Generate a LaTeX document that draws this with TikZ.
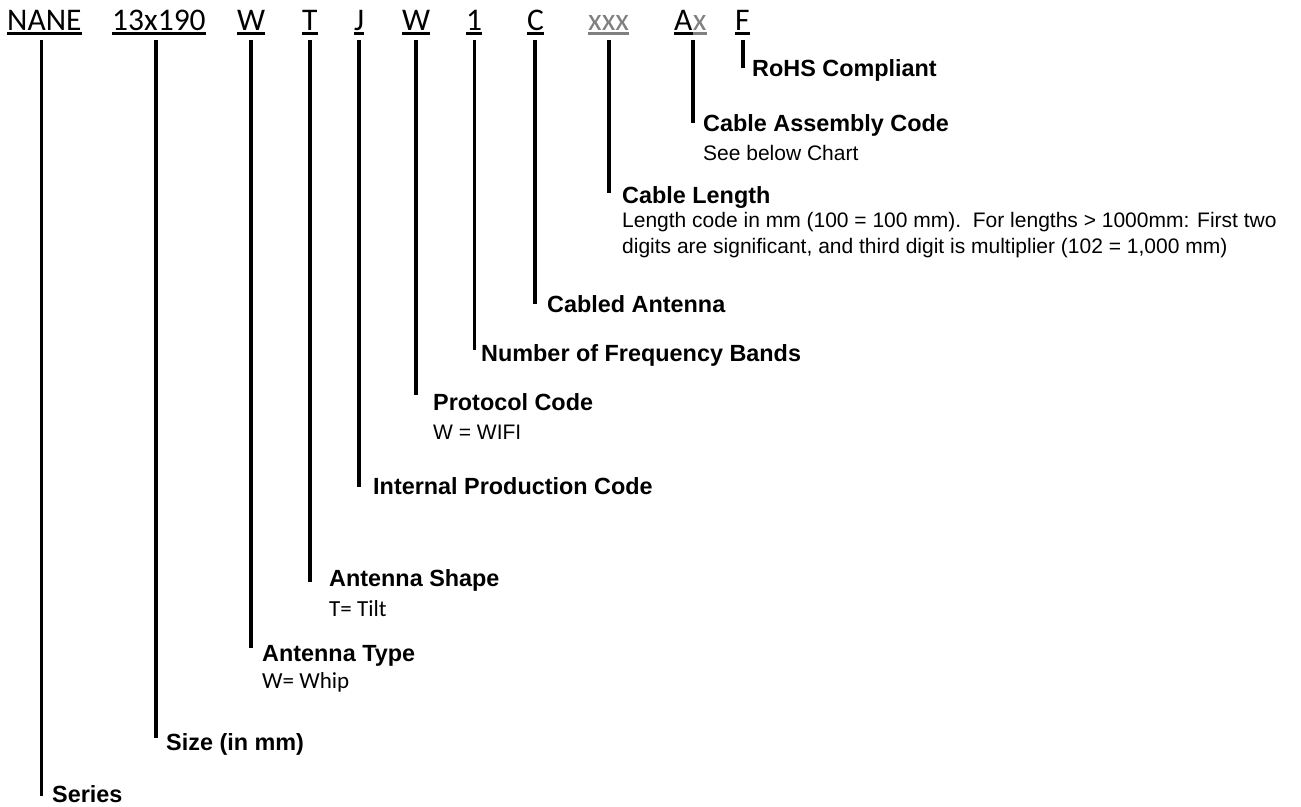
\documentclass[tikz,border=0pt]{standalone}
\usepackage{fontspec}
\setmainfont{Liberation Sans}
\newfontfamily\calib{Carlito}
\definecolor{codegray}{RGB}{128,128,128}
\begin{document}
\begin{tikzpicture}[x=1pt,y=-1pt,
  code/.style={anchor=base west, inner sep=0pt, font=\calib\fontsize{31.5}{32}\selectfont},
  uline/.style={line width=2.6pt},
  lead/.style={line width=3.5pt},
  lbl/.style={anchor=base west, inner sep=0pt, font=\bfseries\fontsize{23.4}{27}\selectfont},
  desc/.style={anchor=base west, inner sep=0pt, font=\fontsize{21}{26}\selectfont},
  cdesc/.style={anchor=base west, inner sep=0pt, font=\calib\fontsize{23}{26}\selectfont}]
\useasboundingbox (0,0) rectangle (1301,806);
% top code row
\node[code] (c1) at (7,30) {NANE};
\node[code] (c2) at (112,30) {13x190};
\node[code] (c3) at (237,30) {W};
\node[code] (c4) at (302,30) {T};
\node[code] (c5) at (354,30) {J};
\node[code] (c6) at (402,30) {W};
\node[code] (c7) at (466,30) {1};
\node[code] (c8) at (527,30) {C};
\node[code,text=codegray] (c9) at (588,30) {xxx};
\node[code] (c10) at (674,30) {A};
\node[code,text=codegray] (c10x) at (c10.base east) {x};
\node[code] (c11) at (735,30) {F};
\foreach \n in {c1,c2,c3,c4,c5,c6,c7,c8,c10,c11}
  \draw[uline] ([yshift=-3.6pt]\n.base west) -- ([yshift=-3.6pt]\n.base east);
\foreach \n in {c9,c10x}
  \draw[uline,codegray] ([yshift=-3.6pt]\n.base west) -- ([yshift=-3.6pt]\n.base east);
% leader tops and bottoms
\coordinate (t1) at (41.7,40);  \coordinate (b1) at (41.7,796);
\coordinate (t2) at (156,40);   \coordinate (b2) at (156,738);
\coordinate (t3) at (251,40);   \coordinate (b3) at (251,648);
\coordinate (t4) at (310,40);   \coordinate (b4) at (310,581.5);
\coordinate (t5) at (359,40);   \coordinate (b5) at (359,487);
\coordinate (t6) at (416,40);   \coordinate (b6) at (416,395);
\coordinate (t7) at (474.5,40); \coordinate (b7) at (474.5,350);
\coordinate (t8) at (535,40);   \coordinate (b8) at (535,304);
\coordinate (t9) at (609,40);   \coordinate (b9) at (609,193);
\coordinate (t10) at (693,40);  \coordinate (b10) at (693,122.5);
\coordinate (t11) at (743,40);  \coordinate (b11) at (743,68);
\foreach \i in {1,...,11} \draw[lead] (t\i) -- (b\i);
% labels
\node[lbl] (l11) at (752,76) {RoHS Compliant};
\node[lbl] (l10) at (703,131) {Cable Assembly Code};
\node[desc] (d10) at (703,160) {See below Chart};
\node[lbl] (l9) at (622,203) {Cable Length};
\node[desc] (d9a) at (622,227) {Length code in mm (100 = 100 mm).\ \ For lengths > 1000mm: First two};
\node[desc] (d9b) at (622,253) {digits are significant, and third digit is multiplier (102 = 1,000 mm)};
\node[lbl] (l8) at (547,312.7) {Cabled Antenna};
\node[lbl] (l7) at (481,361.5) {Number of Frequency Bands};
\node[lbl] (l6) at (433,410) {Protocol Code};
\node[desc] (d6) at (433,439) {W = WIFI};
\node[lbl] (l5) at (373,494) {Internal Production Code};
\node[lbl] (l4) at (329,586.7) {Antenna Shape};
\node[cdesc] (d4) at (329,616) {T= Tilt};
\node[lbl] (l3) at (262,661) {Antenna Type};
\node[cdesc] (d3) at (262,688) {W= Whip};
\node[lbl] (l2) at (166,750.7) {Size (in mm)};
\node[lbl] (l1) at (52,802.5) {Series};
\end{tikzpicture}
\end{document}
